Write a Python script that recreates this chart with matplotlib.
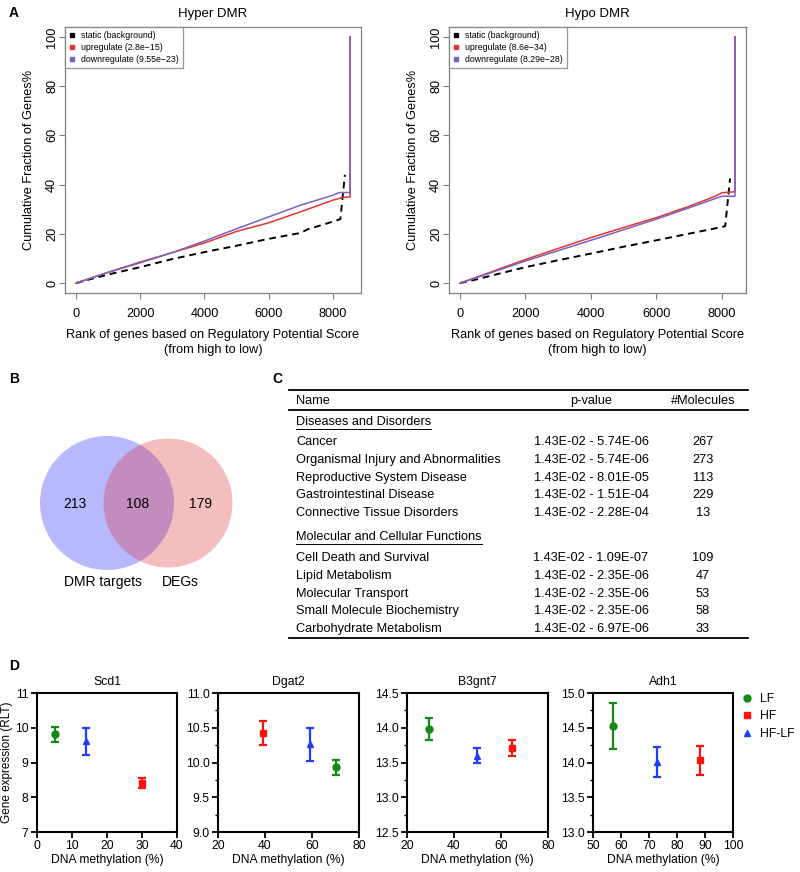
import matplotlib
matplotlib.use("Agg")
import matplotlib.pyplot as plt
from matplotlib.lines import Line2D
from matplotlib.patches import Circle
from matplotlib.ticker import MultipleLocator

plt.rcParams['font.family'] = ['Liberation Sans', 'DejaVu Sans']

# ---- panel A: cumulative fraction curves (rank, percent) ----
hyper_static_x = [0, 500, 1000, 2000, 3000, 4000, 5000, 6000, 7000, 7200, 8000, 8230, 8370]
hyper_static_y = [0, 1.8, 3.5, 6.5, 9.8, 12.6, 15.2, 18.0, 20.4, 21.8, 25.0, 26.0, 44.0]
hyper_up_x = [0, 500, 1000, 2000, 3000, 4000, 5000, 6000, 7000, 8000, 8300, 8530, 8530]
hyper_up_y = [0, 2.2, 4.4, 8.3, 12.4, 16.3, 21.0, 24.5, 29.0, 33.7, 34.8, 35.0, 100]
hyper_down_x = [0, 500, 1000, 2000, 3000, 4000, 5000, 6000, 7000, 8000, 8200, 8530, 8530]
hyper_down_y = [0, 2.2, 4.4, 8.6, 12.4, 17.1, 22.1, 26.9, 31.7, 35.7, 36.8, 36.8, 100]

hypo_static_x = [0, 500, 1000, 2000, 3000, 4000, 5000, 6000, 7000, 8000, 8100, 8250]
hypo_static_y = [0, 1.5, 3.2, 6.5, 9.3, 12.0, 14.8, 17.4, 20.1, 22.8, 23.1, 42.5]
hypo_up_x = [0, 500, 1000, 2000, 3000, 4000, 5000, 6000, 7000, 7800, 8000, 8400, 8400]
hypo_up_y = [0, 2.4, 4.8, 9.6, 14.1, 18.5, 22.6, 26.6, 31.2, 35.3, 36.7, 37.1, 100]
hypo_down_x = [0, 500, 1000, 2000, 3000, 4000, 5000, 6000, 7000, 8000, 8400, 8400]
hypo_down_y = [0, 2.2, 4.5, 9.0, 13.2, 17.4, 21.7, 26.0, 30.6, 35.3, 35.3, 100]

hyper_pvals = ['2.8e\u221215', '9.55e\u221223']
hypo_pvals = ['8.6e\u221234', '8.29e\u221228']

# ---- panel B: venn counts ----
venn_counts = [213, 108, 179]
venn_labels = ['DMR targets', 'DEGs']

# ---- panel C: IPA table ----
section_titles = ['Diseases and Disorders', 'Molecular and Cellular Functions']
disease_names = ['Cancer', 'Organismal Injury and Abnormalities', 'Reproductive System Disease',
                 'Gastrointestinal Disease', 'Connective Tissue Disorders']
disease_p = ['1.43E-02 - 5.74E-06', '1.43E-02 - 5.74E-06', '1.43E-02 - 8.01E-05',
             '1.43E-02 - 1.51E-04', '1.43E-02 - 2.28E-04']
disease_n = [267, 273, 113, 229, 13]
molecular_names = ['Cell Death and Survival', 'Lipid Metabolism', 'Molecular Transport',
                   'Small Molecule Biochemistry', 'Carbohydrate Metabolism']
molecular_p = ['1.43E-02 - 1.09E-07', '1.43E-02 - 2.35E-06', '1.43E-02 - 2.35E-06',
               '1.43E-02 - 2.35E-06', '1.43E-02 - 6.97E-06']
molecular_n = [109, 47, 53, 58, 33]

# ---- panel D: methylation vs expression ----
genes = ['Scd1', 'Dgat2', 'B3gnt7', 'Adh1']
lf_meth = [5.0, 70.0, 29.4, 57.1]
lf_expr = [9.81, 9.93, 13.98, 14.52]
lf_err = [0.21, 0.11, 0.16, 0.33]
hf_meth = [30.1, 39.0, 64.6, 88.3]
hf_expr = [8.41, 10.42, 13.71, 14.03]
hf_err = [0.14, 0.17, 0.11, 0.21]
hflf_meth = [13.9, 59.0, 49.9, 73.0]
hflf_expr = [9.61, 10.26, 13.60, 14.01]
hflf_err = [0.38, 0.24, 0.11, 0.22]
d_xlims = [(0, 40), (20, 80), (20, 80), (50, 100)]
d_ylims = [(7, 11), (9, 11), (12.5, 14.5), (13, 15)]
d_xsteps = [10, 20, 20, 10]
d_ysteps = [1, 0.5, 0.5, 0.5]

RED = '#E3342F'
PURPLE = '#7A5FC4'
GRAY = '#7f7f7f'

fig = plt.figure(figsize=(8, 8.72), dpi=100)


def box(x0, y0, x1, y1):
    return [x0 / 800, 1 - y1 / 872, (x1 - x0) / 800, (y1 - y0) / 872]


# overlay axes in pixel units for letters, venn and table
ov = fig.add_axes([0, 0, 1, 1])
ov.set_xlim(0, 800)
ov.set_ylim(872, 0)
ov.axis('off')

for letter, x, y in [('A', 9, 13), ('B', 9, 379), ('C', 272, 379), ('D', 9, 666)]:
    ov.text(x, y, letter, fontsize=10, fontweight='bold', ha='left', va='center')


def cdf_panel(rect, title, sx, sy, ux, uy, dx, dy, pvals):
    ax = fig.add_axes(rect)
    ax.plot(sx, sy, color='black', lw=1.4, ls=(0, (3.5, 2.5)))
    ax.plot(ux, uy, color=RED, lw=1.1)
    ax.plot(dx, dy, color=PURPLE, lw=1.1)
    xmax = max(max(sx), max(ux), max(dx))
    ax.set_xlim(-0.04 * xmax, 1.04 * xmax)
    ax.set_ylim(-4, 104)
    ax.set_xticks([0, 2000, 4000, 6000, 8000])
    ax.set_yticks([0, 20, 40, 60, 80, 100])
    for s in ax.spines.values():
        s.set_color(GRAY)
        s.set_linewidth(0.9)
    ax.tick_params(colors=GRAY, labelcolor='black', labelsize=9.2, length=4, width=0.8)
    ax.tick_params(axis='x', pad=7)
    ax.tick_params(axis='y', pad=1)
    plt.setp(ax.get_yticklabels(), rotation=90, va='center')
    ax.set_title(title, fontsize=9.5, pad=7)
    ax.set_xlabel('Rank of genes based on Regulatory Potential Score\n(from high to low)',
                  fontsize=9.2, labelpad=6, linespacing=1.35)
    ax.set_ylabel('Cumulative Fraction of Genes%', fontsize=9.2, labelpad=8)
    handles = [Line2D([], [], ls='none', marker='s', markersize=3.2, color=c)
               for c in ['black', RED, PURPLE]]
    labels = ['static (background)', 'upregulate (%s)' % pvals[0], 'downregulate (%s)' % pvals[1]]
    leg = ax.legend(handles, labels, loc='upper left', fontsize=6.3, frameon=True, fancybox=False,
                    borderaxespad=0, handlelength=0.8, handletextpad=0.6, labelspacing=0.35,
                    borderpad=0.45)
    leg.get_frame().set_edgecolor(GRAY)
    leg.get_frame().set_linewidth(0.9)
    return ax


cdf_panel(box(65, 27, 361, 293), 'Hyper DMR', hyper_static_x, hyper_static_y,
          hyper_up_x, hyper_up_y, hyper_down_x, hyper_down_y, hyper_pvals)
cdf_panel(box(449, 27, 746, 293), 'Hypo DMR', hypo_static_x, hypo_static_y,
          hypo_up_x, hypo_up_y, hypo_down_x, hypo_down_y, hypo_pvals)

# ---- panel B: venn ----
ov.add_patch(Circle((107, 503), 67, facecolor='#0000FF', alpha=0.28, edgecolor='none'))
ov.add_patch(Circle((168, 503), 64.5, facecolor='#DC2828', alpha=0.30, edgecolor='none'))
for x, n in zip([75, 138, 201], venn_counts):
    ov.text(x, 504, str(n), fontsize=10, ha='center', va='center')
ov.text(103, 582, venn_labels[0], fontsize=10, ha='center', va='center')
ov.text(180, 582, venn_labels[1], fontsize=10, ha='center', va='center')

# ---- panel C: table ----
FS = 9.2
renderer = fig.canvas.get_renderer()
ov.plot([289, 748], [390, 390], color='black', lw=1.3)
ov.plot([289, 748], [410, 410], color='black', lw=1.3)
ov.plot([289, 748], [638, 638], color='black', lw=1.3)
ov.text(296, 401, 'Name', fontsize=FS, ha='left', va='center')
ov.text(591, 401, 'p-value', fontsize=FS, ha='center', va='center')
ov.text(703, 401, '#Molecules', fontsize=FS, ha='center', va='center')


def section(y_head, title, names, pvals, counts, y0):
    t = ov.text(296, y_head, title, fontsize=FS, ha='left', va='center')
    bb = t.get_window_extent(renderer)
    inv = ov.transData.inverted()
    (xa, _), (xb, _) = inv.transform([(bb.x0, bb.y0), (bb.x1, bb.y0)])
    ov.plot([xa, xb], [y_head + 6.5, y_head + 6.5], color='black', lw=0.7)
    for i, (nm, p, c) in enumerate(zip(names, pvals, counts)):
        y = y0 + 17.8 * i
        ov.text(296, y, nm, fontsize=FS, ha='left', va='center')
        ov.text(591, y, p, fontsize=FS, ha='center', va='center')
        ov.text(703, y, str(c), fontsize=FS, ha='center', va='center')


section(422, section_titles[0], disease_names, disease_p, disease_n, 442)
section(537, section_titles[1], molecular_names, molecular_p, molecular_n, 558)

# ---- panel D ----
d_rects = [box(37, 693, 177, 832), box(218, 693, 359, 832),
           box(407, 693, 548, 832), box(593, 693, 733, 832)]
GREEN = '#138A13'
BLUE = '#1F3FFF'
HFRED = '#FF1010'
for i, g in enumerate(genes):
    ax = fig.add_axes(d_rects[i])
    groups = [(lf_meth, lf_expr, lf_err, GREEN, 'o', 'LF'),
              (hf_meth, hf_expr, hf_err, HFRED, 's', 'HF'),
              (hflf_meth, hflf_expr, hflf_err, BLUE, '^', 'HF-LF')]
    handles = []
    for mx, my, me, col, mk, lab in groups:
        ax.errorbar(mx[i], my[i], yerr=me[i], fmt='none', ecolor=col, elinewidth=1.6,
                    capsize=3, capthick=1.6)
        h, = ax.plot(mx[i], my[i], ls='none', marker=mk, color=col, markersize=5, label=lab)
        handles.append(h)
    ax.set_xlim(*d_xlims[i])
    ax.set_ylim(*d_ylims[i])
    ax.xaxis.set_major_locator(MultipleLocator(d_xsteps[i]))
    ax.yaxis.set_major_locator(MultipleLocator(d_ysteps[i]))
    if d_ysteps[i] == 0.5:
        ax.yaxis.set_minor_locator(MultipleLocator(0.25))
        ax.yaxis.set_major_formatter('{x:.1f}')
    for s in ax.spines.values():
        s.set_linewidth(1.5)
    ax.tick_params(which='major', length=4, width=1.3, labelsize=8.8, pad=2)
    ax.tick_params(which='minor', length=2.5, width=1.0)
    ax.set_title(g, fontsize=8.8, pad=6)
    ax.set_xlabel('DNA methylation (%)', fontsize=8.7, labelpad=1)
    if i == 0:
        ax.set_ylabel('Gene expression (RLT)', fontsize=8.5)
        ax.yaxis.set_label_coords(-0.17, 0.5)
    if i == 3:
        ax.legend(handles=handles, loc='upper left', bbox_to_anchor=(736 / 800, 1 - 688 / 872),
                  bbox_transform=fig.transFigure, frameon=False, fontsize=8.8,
                  handlelength=1.0, handletextpad=0.6, labelspacing=0.45, borderaxespad=0)

fig.savefig('out.png', dpi=100)
